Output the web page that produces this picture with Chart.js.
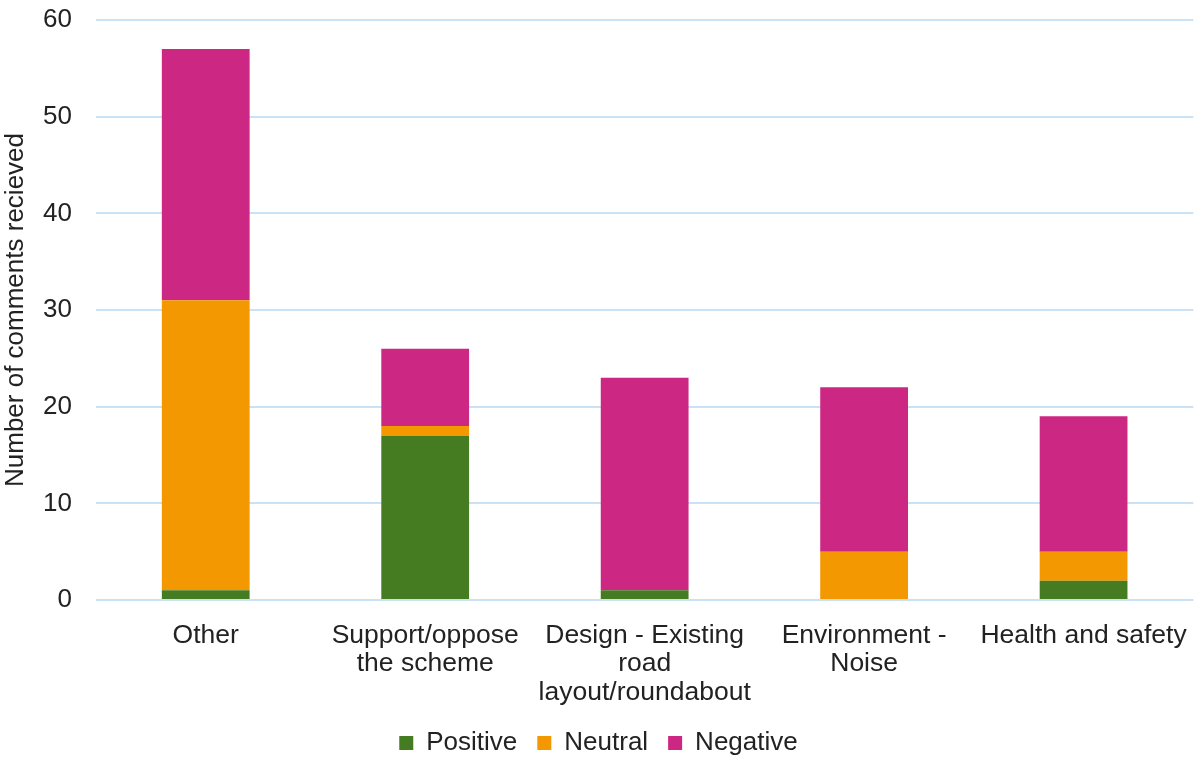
<!DOCTYPE html>
<html>
<head>
<meta charset="utf-8">
<script src="https://cdn.jsdelivr.net/npm/chart.js@4"></script>
<style>
  body { margin: 0; background: #fff; }
</style>
</head>
<body>
<canvas id="result_chart" width="1200" height="766"></canvas>
<script>
// Comments received by topic, split by sentiment

const categories = [
    "Other",
    ["Support/oppose", "the scheme"],
    ["Design - Existing", "road", "layout/roundabout"],
    ["Environment -", "Noise"],
    "Health and safety"
]
const positive = [1, 17, 1, 0, 2]
const neutral = [30, 1, 0, 5, 3]
const negative = [26, 8, 22, 17, 14]
const y_ticks = [0, 10, 20, 30, 40, 50, 60]

const font_name = "'Liberation Sans', Arial, sans-serif"

const frame = document.getElementById("result_chart")

const chart = new Chart(frame, {
    type: 'bar',
    data: {
        labels: categories,
        datasets: [
            {label: 'Positive', data: positive, backgroundColor: '#467C21'},
            {label: 'Neutral', data: neutral, backgroundColor: '#F39800'},
            {label: 'Negative', data: negative, backgroundColor: '#CC2782'}
        ]
    },
    options: {
        responsive: false,
        animation: false,
        maintainAspectRatio: false,
        datasets: {bar: {categoryPercentage: 1, barPercentage: 0.4}},
        layout: {padding: {left: 0, right: 3, top: 0, bottom: 0}},
        plugins: {
            tooltip: {enabled: false},
            legend: {
                position: 'bottom',
                labels: {
                    font: {family: font_name, size: 26},
                    color: '#222',
                    boxWidth: 14,
                    boxHeight: 14,
                    padding: 20
                }
            }
        },
        scales: {
            x: {
                stacked: true,
                grid: {display: false},
                border: {display: false},
                ticks: {
                    color: '#222',
                    font: {family: font_name, size: 26.5, lineHeight: 1.08},
                    padding: 13,
                    maxRotation: 0,
                    autoSkip: false
                },
                afterFit: function (scale) { scale.height = 110 }
            },
            y: {
                stacked: true,
                min: 0,
                max: 60,
                afterBuildTicks: function (scale) {
                    scale.ticks = y_ticks.map(v => ({value: v}))
                },
                grid: {color: '#C9E2F8', lineWidth: 2, drawTicks: false},
                border: {display: false},
                ticks: {
                    color: '#222',
                    font: {family: font_name, size: 26},
                    padding: 24
                },
                title: {
                    display: true,
                    text: 'Number of comments recieved',
                    color: '#222',
                    font: {family: font_name, size: 26},
                    padding: {top: 0, bottom: 4}
                },
                afterFit: function (scale) {
                    scale.width = 96
                    scale.paddingTop = 20
                }
            }
        }
    }
})
</script>
</body>
</html>
